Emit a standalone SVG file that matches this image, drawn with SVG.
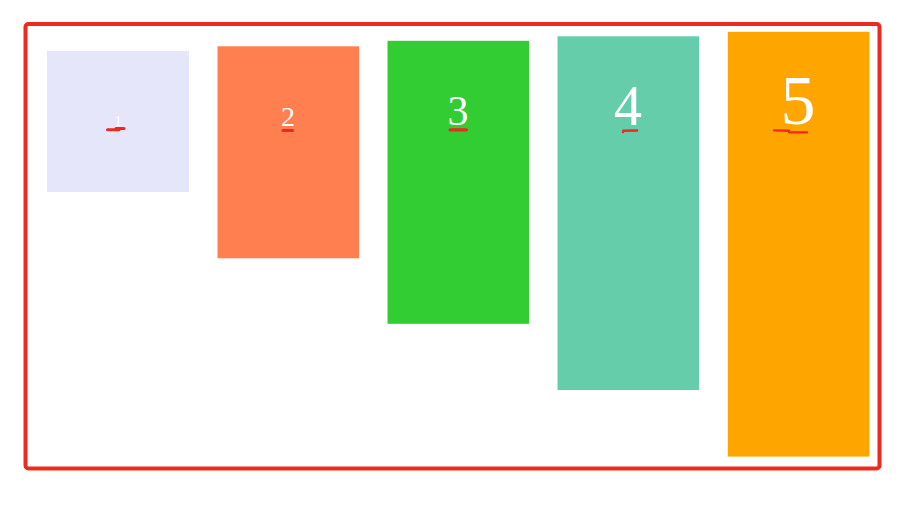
<svg xmlns="http://www.w3.org/2000/svg" width="912" height="515" viewBox="0 0 912 515">
<style>
.num{fill:#ffffff;font-family:"Liberation Serif","Times New Roman",serif;text-anchor:middle}
.mark{fill:none;stroke:#ee2a1f;stroke-linecap:round}
</style>
<rect x="0" y="0" width="912" height="515" fill="#ffffff"/>
<rect id="frame" x="25.5" y="24" width="854" height="444.5" rx="3" fill="none" stroke="#ee2a1f" stroke-width="4"/>
<g id="node1">
<rect x="47" y="51" width="142" height="141" fill="#e6e6fa"/>
<text class="num" x="118" y="126" font-size="14">1</text>
</g>
<g id="node2">
<rect x="217.5" y="46.3" width="141.6" height="212" fill="#ff7f50"/>
<text class="num" x="288" y="126" font-size="28">2</text>
</g>
<g id="node3">
<rect x="387.5" y="40.8" width="141.6" height="283" fill="#32cd32"/>
<text class="num" x="458" y="125" font-size="42">3</text>
</g>
<g id="node4">
<rect x="557.5" y="36.3" width="141.6" height="353.7" fill="#66cdaa"/>
<text class="num" x="628" y="125" font-size="56">4</text>
</g>
<g id="node5">
<rect x="727.8" y="31.8" width="141.6" height="424.8" fill="#ffa500"/>
<text class="num" x="798" y="124" font-size="70">5</text>
</g>
<g id="connectors">
<path class="mark" d="M107.5 129.8 L119 129.8 M116 128.6 L124 128.6" stroke-width="3"/>
<path class="mark" d="M283 130.5 L292.5 130.5" stroke-width="3.2"/>
<path class="mark" d="M450 129.8 L466.5 129.8" stroke-width="3.2"/>
<path class="mark" d="M623 132 L623.5 130.8 L637 130.5" stroke-width="2.6"/>
<path class="mark" d="M774 130.4 L789 130.8 M789 132.2 L807 132.4" stroke-width="2.4"/>
</g>
</svg>
